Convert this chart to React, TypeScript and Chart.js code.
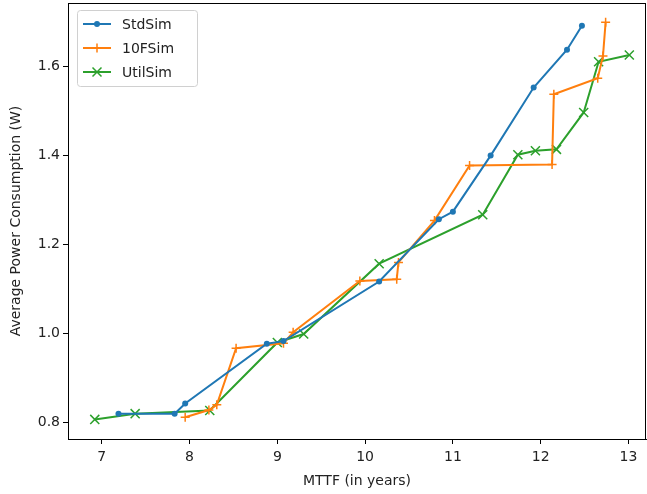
import React, { useEffect, useRef } from "react";
import { Chart, registerables } from "chart.js";

Chart.register(...registerables);

const xTicks = [7, 8, 9, 10, 11, 12, 13];
const yTicks = [0.8, 1.0, 1.2, 1.4, 1.6];

const stdX = [7.19, 7.83, 7.95, 8.88, 9.07, 10.16, 10.84, 11.0, 11.43, 11.92, 12.3, 12.47];
const stdY = [0.82, 0.82, 0.843, 0.977, 0.983, 1.117, 1.257, 1.274, 1.4, 1.553, 1.638, 1.692];

const tenfX = [7.95, 8.22, 8.31, 8.53, 9.07, 9.18, 9.94, 10.36, 10.38, 10.79, 11.19, 12.13, 12.15, 12.65, 12.71, 12.74];
const tenfY = [0.812, 0.828, 0.84, 0.967, 0.978, 1.003, 1.118, 1.122, 1.16, 1.254, 1.378, 1.38, 1.538, 1.574, 1.624, 1.7];

const utilX = [6.92, 7.38, 8.23, 9.0, 9.3, 10.16, 11.34, 11.74, 11.94, 12.18, 12.49, 12.66, 13.01];
const utilY = [0.807, 0.82, 0.827, 0.98, 0.999, 1.157, 1.267, 1.402, 1.411, 1.414, 1.497, 1.611, 1.626];

const seriesNames = ["StdSim", "10FSim", "UtilSim"];
const colors = ["#1f77b4", "#ff7f0e", "#2ca02c"];
const styles = ["circle", "cross", "crossRot"];
const radii = [3, 4.5, 6.4];

const FONT = "DejaVu Sans";

function toPts(xs: number[], ys: number[]) {
  return xs.map((x, i) => ({ x, y: ys[i] }));
}

function drawMarker(ctx: CanvasRenderingContext2D, style: string, x: number, y: number, color: string) {
  ctx.save();
  ctx.strokeStyle = color;
  ctx.fillStyle = color;
  ctx.lineWidth = 1.5;
  if (style === "circle") {
    ctx.beginPath();
    ctx.arc(x, y, 3, 0, Math.PI * 2);
    ctx.fill();
  } else if (style === "cross") {
    ctx.beginPath();
    ctx.moveTo(x - 4.5, y);
    ctx.lineTo(x + 4.5, y);
    ctx.moveTo(x, y - 4.5);
    ctx.lineTo(x, y + 4.5);
    ctx.stroke();
  } else {
    const d = 4.5;
    ctx.beginPath();
    ctx.moveTo(x - d, y - d);
    ctx.lineTo(x + d, y + d);
    ctx.moveTo(x - d, y + d);
    ctx.lineTo(x + d, y - d);
    ctx.stroke();
  }
  ctx.restore();
}

const framePlugin = {
  id: "frame",
  afterDraw(chart: any) {
    const { ctx, chartArea } = chart;
    const { left, top, right, bottom } = chartArea;
    ctx.save();
    ctx.strokeStyle = "#000";
    ctx.lineWidth = 1;
    ctx.strokeRect(Math.round(left) + 0.5, Math.round(top) + 0.5, Math.round(right - left) - 1, Math.round(bottom - top));
    // legend
    const bx = 77.5, by = 10.5, bw = 120, bh = 76, r = 3;
    ctx.beginPath();
    ctx.moveTo(bx + r, by);
    ctx.lineTo(bx + bw - r, by);
    ctx.quadraticCurveTo(bx + bw, by, bx + bw, by + r);
    ctx.lineTo(bx + bw, by + bh - r);
    ctx.quadraticCurveTo(bx + bw, by + bh, bx + bw - r, by + bh);
    ctx.lineTo(bx + r, by + bh);
    ctx.quadraticCurveTo(bx, by + bh, bx, by + bh - r);
    ctx.lineTo(bx, by + r);
    ctx.quadraticCurveTo(bx, by, bx + r, by);
    ctx.closePath();
    ctx.fillStyle = "rgba(255,255,255,0.8)";
    ctx.fill();
    ctx.strokeStyle = "#d0d0d0";
    ctx.stroke();
    const ys = [24, 48, 72];
    seriesNames.forEach((name, i) => {
      const y = ys[i];
      ctx.strokeStyle = colors[i];
      ctx.lineWidth = 2;
      ctx.beginPath();
      ctx.moveTo(83, y);
      ctx.lineTo(111, y);
      ctx.stroke();
      drawMarker(ctx, styles[i], 97, y, colors[i]);
      ctx.fillStyle = "#222";
      ctx.font = `14px "${FONT}"`;
      ctx.textBaseline = "middle";
      ctx.textAlign = "left";
      ctx.fillText(name, 122, y + 1);
    });
    ctx.restore();
  },
};

export default function App() {
  const ref = useRef<HTMLCanvasElement>(null);
  useEffect(() => {
    document.body.style.margin = "0";
    const canvas = ref.current!;
    const datasets = [
      toPts(stdX, stdY),
      toPts(tenfX, tenfY),
      toPts(utilX, utilY),
    ].map((data, i) => ({
      label: seriesNames[i],
      data,
      borderColor: colors[i],
      backgroundColor: colors[i],
      borderWidth: 2,
      pointStyle: styles[i] as any,
      pointRadius: radii[i],
      pointBorderWidth: i === 0 ? 0 : 1.5,
      pointBorderColor: colors[i],
      pointBackgroundColor: colors[i],
      showLine: true,
      tension: 0,
    }));
    const tickFont = { family: FONT, size: 14 };
    const chart = new Chart(canvas, {
      type: "scatter",
      data: { datasets },
      plugins: [framePlugin],
      options: {
        responsive: false,
        animation: false,
        layout: { autoPadding: false, padding: { top: 3, right: 1, left: 0, bottom: 0 } },
        plugins: { legend: { display: false }, tooltip: { enabled: false } },
        scales: {
          x: {
            type: "linear",
            min: 6.615,
            max: 13.2,
            afterBuildTicks: (s: any) => {
              s.ticks = xTicks.map((v) => ({ value: v }));
            },
            afterFit: (s: any) => {
              s.height = 55;
              s.paddingLeft = 0;
              s.paddingRight = 0;
            },
            ticks: { font: tickFont, color: "#222", padding: 5, maxRotation: 0, callback: (v: any) => String(v) },
            grid: { drawOnChartArea: false, drawTicks: true, tickLength: 5, color: "#000", tickColor: "#000" },
            border: { display: true, color: "#000", width: 1 },
            title: { display: true, text: "MTTF (in years)", font: tickFont, color: "#222", padding: { top: 0, bottom: 4 } },
          },
          y: {
            type: "linear",
            min: 0.763,
            max: 1.743,
            afterBuildTicks: (s: any) => {
              s.ticks = yTicks.map((v) => ({ value: v }));
            },
            afterFit: (s: any) => {
              s.width = 68;
              s.paddingTop = 0;
              s.paddingBottom = 0;
            },
            ticks: { font: tickFont, color: "#222", padding: 3, callback: (v: any) => Number(v).toFixed(1) },
            grid: { drawOnChartArea: false, drawTicks: true, tickLength: 5, color: "#000", tickColor: "#000" },
            border: { display: true, color: "#000", width: 1 },
            title: { display: true, text: "Average Power Consumption (W)", font: tickFont, color: "#222", padding: { top: 8, bottom: 0 } },
          },
        },
      },
    });
    return () => chart.destroy();
  }, []);
  return (
    <div style={{ position: "absolute", left: 0, top: 0, width: 647, height: 494 }}>
      <canvas ref={ref} width={647} height={494} />
    </div>
  );
}
